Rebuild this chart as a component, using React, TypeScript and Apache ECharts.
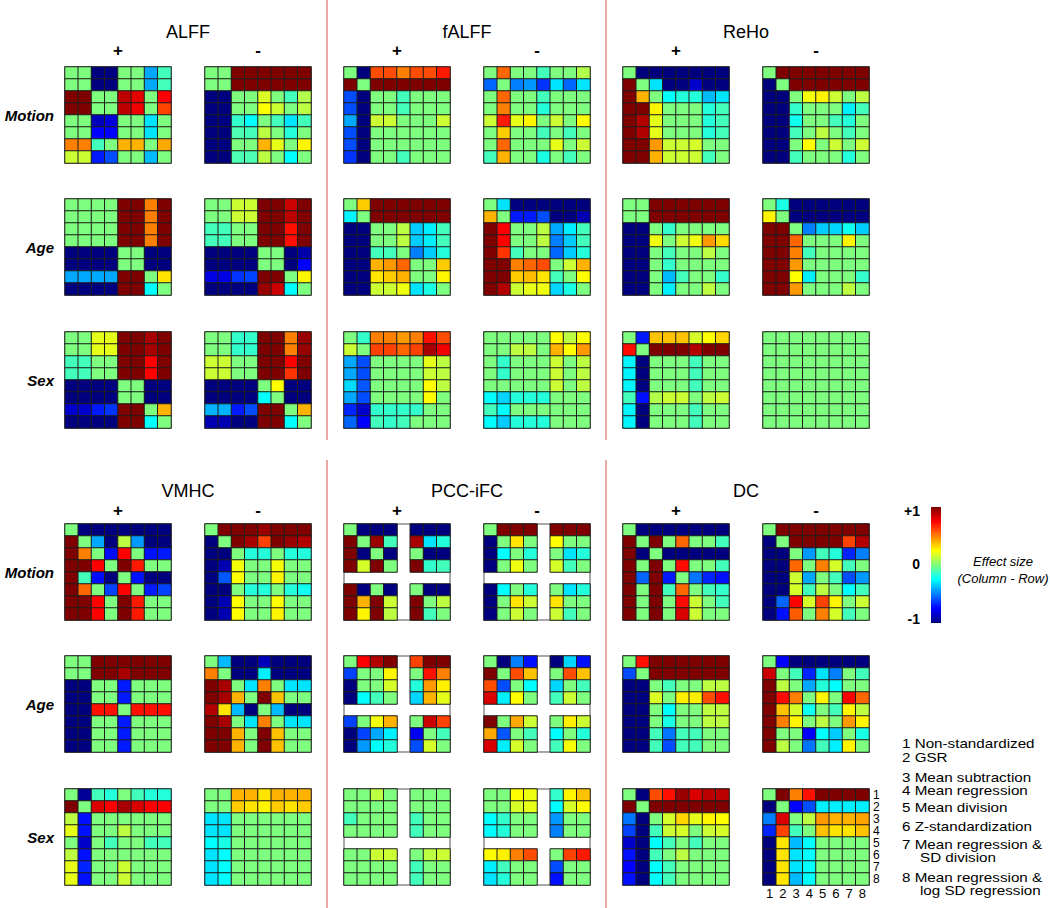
import React, { useEffect, useRef } from "react";
import * as echarts from "echarts";

const TICKS = ["1", "2", "3", "4", "5", "6", "7", "8"];
const ROW_LABELS = ["Motion", "Age", "Sex"];
const TOP_MEASURES = ["ALFF", "fALFF", "ReHo"];
const BOTTOM_MEASURES = ["VMHC", "PCC-iFC", "DC"];
const SIGNS = ["+", "-"];
const COLORBAR_TICKS = ["+1", "0", "-1"];
const COLORBAR_TITLE = ["Effect size", "(Column - Row)"];
// legend lines: [text, indented continuation?]
const STRATEGY_LINES = [
  ["1 Non-standardized", false],
  ["2 GSR", false],
  ["3 Mean subtraction", false],
  ["4 Mean regression", false],
  ["5 Mean division", false],
  ["6 Z-standardization", false],
  ["7 Mean regression &", false],
  ["SD division", true],
  ["8 Mean regression &", false],
  ["log SD regression", true],
];
const JET = ["#00007f", "#0000ff", "#007fff", "#00ffff", "#7fff7f", "#ffff00", "#ff7f00", "#ff0000", "#7f0000"];

const _ = null;

// ---------- ALFF ----------
const alffMotionPos = [
  [0, 0, -1, -1, 0, 0, -0.42, -0.12],
  [0, 0, -1, -1, 0, 0, -0.42, -0.12],
  [1, 1, 0, 0, 0.88, 0.8, 0, 0.75],
  [1, 1, 0, 0, 0.88, 0.78, 0, 0.62],
  [0, 0, -0.88, -0.82, 0, 0, -0.3, 0],
  [0, 0, -0.75, -0.75, 0, 0, -0.3, 0],
  [0.5, 0.5, -0.12, 0, 0.4, 0.4, 0, 0.42],
  [0.15, 0.15, -0.7, -0.6, 0, 0, -0.38, 0],
];
const alffMotionNeg = [
  [0, 0, 1, 1, 1, 1, 1, 1],
  [0, 0, 1, 1, 1, 1, 1, 1],
  [-1, -1, 0, 0, 0.18, 0, -0.12, 0.1],
  [-1, -1, 0, 0, 0.25, 0.15, 0, 0.12],
  [-1, -1, -0.15, -0.25, 0, -0.12, -0.3, -0.12],
  [-1, -1, -0.1, -0.12, 0.12, 0, -0.18, 0],
  [-1, -1, 0, 0, 0.4, 0.2, 0, 0.27],
  [-1, -1, -0.1, -0.1, 0.12, 0, -0.25, 0],
];
const alffAgePos = [
  [0, 0, 0, 0, 1, 1, 0.5, 1],
  [0, 0, 0, 0, 1, 1, 0.5, 1],
  [0, 0, 0, 0, 1, 1, 0.5, 1],
  [0, 0, 0, 0, 1, 1, 0.5, 1],
  [-1, -1, -1, -1, 0, 0, -1, -1],
  [-1, -1, -1, -1, 0, 0, -1, -1],
  [-0.42, -0.42, -0.42, -0.42, 1, 1, 0, 0.3],
  [-1, -1, -1, -1, 1, 1, -0.25, 0],
];
const alffAgeNeg = [
  [0, 0, 0.15, 0.15, 1, 1, 0.85, 1],
  [0, 0, 0.15, 0.15, 1, 1, 0.88, 1],
  [-0.12, -0.12, 0, 0, 1, 1, 0.72, 1],
  [-0.12, -0.12, 0, 0, 1, 1, 0.72, 1],
  [-1, -1, -1, -1, 0, 0, -1, -0.92],
  [-1, -1, -1, -1, 0, 0, -1, -0.75],
  [-0.8, -0.8, -0.65, -0.62, 1, 1, 0, 0.27],
  [-1, -1, -1, -1, 0.95, 0.85, -0.25, 0],
];
const alffSexPos = [
  [0, 0, 0.2, 0.2, 1, 1, 0.92, 1],
  [0, 0, 0.2, 0.2, 1, 1, 0.92, 1],
  [-0.12, -0.12, 0, 0, 1, 1, 0.75, 1],
  [-0.12, -0.12, 0, 0, 1, 1, 0.75, 1],
  [-1, -1, -1, -1, 0, 0, -1, -1],
  [-1, -1, -1, -1, 0, 0, -1, -1],
  [-0.85, -0.85, -0.7, -0.65, 1, 1, 0, 0.4],
  [-1, -1, -1, -1, 1, 1, -0.25, 0],
];
const alffSexNeg = [
  [0, 0, -0.15, -0.15, 1, 1, 0.5, 0.95],
  [0, 0, -0.15, -0.15, 1, 1, 0.5, 0.95],
  [0.15, 0.15, 0, 0, 1, 1, 0.75, 1],
  [0.15, 0.15, 0, 0, 1, 1, 0.65, 1],
  [-1, -1, -1, -1, 0, 0.25, -1, -1],
  [-1, -1, -1, -1, -0.25, 0, -1, -1],
  [-0.4, -0.4, -0.7, -0.6, 1, 1, 0, 0.4],
  [-0.9, -0.9, -1, -1, 1, 1, -0.25, 0],
];

// ---------- fALFF ----------
const falffMotionPos = [
  [0, -1, 0.6, 0.6, 0.5, 0.6, 0.6, 0.7],
  [1, 0, 1, 1, 1, 1, 1, 1],
  [-0.6, -1, 0, 0, -0.12, 0, 0, 0],
  [-0.6, -1, 0, 0, -0.12, 0, 0, 0],
  [-0.42, -1, 0.15, 0.15, 0, 0, 0, 0.15],
  [-0.6, -1, 0, 0, 0, 0, 0, 0],
  [-0.6, -1, 0, 0, 0, 0, 0, 0],
  [-0.65, -1, 0, 0, -0.12, 0, 0, 0],
];
const falffMotionNeg = [
  [0, 0.55, 0, 0, -0.12, 0, 0, 0.1],
  [-0.55, 0, -0.5, -0.45, -0.65, -0.3, -0.55, -0.3],
  [0, 0.55, 0, 0, -0.12, 0, 0, 0],
  [0, 0.5, 0, 0, -0.18, 0, 0, 0],
  [0.15, 0.7, 0.2, 0.27, 0, 0.15, 0, 0.25],
  [0, 0.35, 0, 0, -0.12, 0, -0.12, 0],
  [0, 0.55, 0, 0, 0, 0.2, 0, 0.15],
  [-0.12, 0.4, 0, 0, -0.2, 0, -0.12, 0],
];
const falffAgePos = [
  [0, 0.35, 1, 1, 1, 1, 1, 1],
  [-0.27, 0, 1, 1, 1, 1, 1, 1],
  [-1, -1, 0, 0, 0.12, -0.35, -0.28, -0.12],
  [-1, -1, 0, 0, 0.12, -0.35, -0.28, -0.12],
  [-1, -1, -0.12, -0.12, 0, -0.5, -0.35, -0.18],
  [-1, -1, 0.4, 0.45, 0.55, 0, 0, 0.35],
  [-1, -1, 0.3, 0.35, 0.4, 0, 0, 0.27],
  [-1, -1, 0.15, 0.15, 0.22, -0.3, -0.2, 0],
];
const falffAgeNeg = [
  [0, -0.3, -1, -1, -1, -1, -1, -1],
  [0.4, 0, -0.7, -0.7, -0.6, -1, -1, -0.9],
  [1, 0.75, 0, 0, 0.12, -0.42, -0.28, -0.12],
  [1, 0.75, 0, 0, 0.12, -0.5, -0.35, -0.12],
  [1, 0.65, -0.12, 0, 0, -0.55, -0.35, -0.18],
  [1, 1, 0.5, 0.55, 0.6, 0, 0.15, 0.4],
  [1, 1, 0.35, 0.38, 0.3, -0.12, 0, 0.25],
  [1, 0.9, 0.15, 0.2, 0.22, -0.33, -0.2, 0],
];
const falffSexPos = [
  [0, -0.15, 0.5, 0.5, 0.45, 0.5, 0.72, 0.6],
  [0.15, 0, 0.62, 0.62, 0.55, 0.62, 0.92, 0.78],
  [-0.42, -0.6, 0, 0, 0, 0, 0.2, 0.12],
  [-0.42, -0.6, 0, 0, 0, 0, 0.15, 0.12],
  [-0.32, -0.58, 0, 0, 0, 0, 0.25, 0.12],
  [-0.42, -0.6, 0, 0, 0, 0, 0.25, 0],
  [-0.68, -0.85, -0.15, -0.15, -0.15, -0.15, 0, 0],
  [-0.55, -0.75, -0.12, -0.15, -0.12, 0, 0, 0],
];
const falffSexNeg = [
  [0, 0, 0, 0, 0, 0.25, 0.12, 0.25],
  [0, 0, 0.12, 0.12, 0, 0.4, 0.25, 0.45],
  [0, -0.15, 0, 0, 0, 0.15, 0, 0.12],
  [0, -0.15, 0, 0, 0, 0.15, 0, 0.12],
  [0, 0, 0, 0, 0, 0.15, 0, 0.12],
  [-0.25, -0.33, -0.18, -0.18, -0.18, 0, 0, 0],
  [-0.12, -0.25, 0, 0, 0, 0, 0, 0],
  [-0.25, -0.35, -0.18, -0.18, -0.18, 0, 0, 0],
];

// ---------- ReHo ----------
const rehoMotionPos = [
  [0, -1, -1, -1, -1, -1, -1, -1],
  [1, 0, -0.3, -1, -1, -0.85, -1, -1],
  [1, 0.4, 0, -0.25, -0.18, -0.18, -0.38, -0.3],
  [1, 1, 0.27, 0, 0, 0, -0.18, -0.12],
  [1, 0.9, 0.2, 0, 0, 0, -0.18, -0.12],
  [1, 0.9, 0.2, 0, 0, 0, -0.18, -0.12],
  [1, 1, 0.45, 0.15, 0.15, 0.17, 0, 0],
  [1, 1, 0.4, 0.15, 0.15, 0.15, -0.12, 0],
];
const rehoMotionNeg = [
  [0, 1, 1, 1, 1, 1, 1, 1],
  [-1, 0, 1, 1, 1, 1, 1, 1],
  [-1, -1, 0, 0.23, 0.27, 0.15, 0, 0.12],
  [-1, -1, -0.15, 0, 0, 0, -0.28, -0.12],
  [-1, -1, -0.22, 0, 0, -0.12, -0.18, 0],
  [-1, -1, -0.12, 0, 0.12, 0, -0.12, 0],
  [-1, -1, 0, 0.25, 0, 0.15, 0, 0.15],
  [-1, -1, -0.12, 0, 0, 0, -0.18, 0],
];
const rehoAgePos = [
  [0, 0, 1, 1, 1, 1, 1, 1],
  [0, 0, 1, 1, 1, 1, 1, 1],
  [-1, -1, 0, -0.15, 0, 0, 0, 0],
  [-1, -1, 0.22, 0, 0.15, 0.22, 0.45, 0.32],
  [-1, -1, 0, -0.12, 0, 0, 0.12, 0],
  [-1, -1, 0, -0.15, 0, 0, 0, 0],
  [-1, -1, 0, -0.38, -0.12, 0, 0, -0.15],
  [-1, -1, 0, -0.28, 0, 0, 0.12, 0],
];
const rehoAgeNeg = [
  [0, -0.2, -1, -1, -1, -1, -1, -1],
  [0.27, 0, -1, -1, -1, -1, -1, -1],
  [1, 1, 0, -0.5, -0.35, -0.33, -0.22, -0.35],
  [1, 1, 0.55, 0, 0, 0, 0.27, 0],
  [1, 1, 0.5, -0.12, 0, 0, 0, 0],
  [1, 1, 0.45, 0, 0, 0, 0, 0],
  [1, 1, 0.25, -0.28, 0, 0, 0, -0.15],
  [1, 1, 0.45, 0, 0, 0, 0.12, 0],
];
const rehoSexPos = [
  [0, -0.7, 0.37, 0.37, 0.37, 0.17, 0.25, 0.33],
  [0.73, 0, 1, 1, 1, 0.9, 1, 1],
  [-0.27, -1, 0, 0, 0, -0.12, 0, 0],
  [-0.27, -1, 0, 0, 0, -0.12, 0, 0],
  [-0.27, -1, 0, 0, 0, -0.12, 0, 0],
  [-0.12, -0.72, 0.1, 0.15, 0.15, 0, 0.12, 0.15],
  [-0.27, -1, 0, 0, 0, -0.12, 0, 0],
  [-0.27, -1, 0, 0, 0, -0.12, 0, 0],
];
const rehoSexNeg = [
  [0, 0, 0, 0, 0, 0, 0, 0],
  [0, 0, 0, 0, 0, 0, 0, 0],
  [0, 0, 0, 0, 0, 0, 0, 0],
  [0, 0, 0, 0, 0, 0, 0, 0],
  [0, 0, 0, 0, 0, 0, 0, 0],
  [0, 0, 0, 0, 0, 0, 0, 0],
  [0, 0, 0, 0, 0, 0, 0, 0],
  [0, 0, 0, 0, 0, 0, 0, 0],
];

// ---------- VMHC ----------
const vmhcMotionPos = [
  [0, -1, -1, -1, -1, -1, -1, -1],
  [1, 0, -0.42, -1, 0.12, -0.45, -1, -1],
  [1, 0.5, 0, -0.73, 0.75, 0, -0.72, -0.7],
  [1, 1, 0.75, 0, 1, 0.7, 0, 0],
  [1, -0.12, -0.73, -1, 0, -0.72, -1, -1],
  [1, 0.55, 0, -0.62, 0.75, 0, -0.7, -0.62],
  [1, 1, 0.75, 0, 1, 0.7, 0, 0],
  [1, 1, 0.75, 0, 1, 0.7, 0, 0],
];
const vmhcMotionNeg = [
  [0, 1, 1, 1, 0.95, 1, 1, 1],
  [-1, 0, 1, 0.92, 0.62, 1, 0.95, 0.9],
  [-1, -1, 0, -0.18, -0.18, 0, -0.18, -0.18],
  [-1, -0.9, 0.23, 0, 0, 0.23, 0, 0],
  [-1, -0.58, 0.25, 0, 0, 0.27, 0, 0],
  [-1, -1, 0, -0.18, -0.18, 0, -0.18, -0.22],
  [-1, -0.9, 0.25, 0, 0, 0.25, 0, 0],
  [-1, -0.9, 0.25, 0, 0, 0.27, 0, 0],
];
const vmhcAgePos = [
  [0, 0, 1, 1, 1, 1, 1, 1],
  [0, 0, 1, 1, 0.92, 1, 1, 1],
  [-1, -1, 0, 0, -0.7, 0, 0, 0],
  [-1, -1, 0, 0, -0.7, 0, 0, 0],
  [-1, -1, 0.72, 0.72, 0, 0.72, 0.72, 0.72],
  [-1, -1, 0, 0, -0.7, 0, 0, 0],
  [-1, -1, 0, 0, -0.7, 0, 0, 0],
  [-1, -1, 0, 0, -0.7, 0, 0, 0],
];
const vmhcAgeNeg = [
  [0, -0.38, -1, -1, -0.88, -1, -1, -1],
  [0.5, 0, -1, -1, -0.28, -1, -1, -1],
  [1, 0.92, 0, -0.3, 0.5, 0, -0.3, -0.3],
  [1, 0.92, 0.4, 0, 1, 0.37, 0, 0],
  [0.9, 0.3, -0.38, -1, 0, -0.38, -1, -1],
  [1, 0.92, 0, -0.3, 0.5, 0, -0.3, -0.3],
  [1, 1, 0.4, 0, 1, 0.37, 0, 0],
  [1, 1, 0.4, 0, 1, 0.37, 0, 0],
];
const vmhcSexPos = [
  [0, -0.95, -0.12, -0.18, 0, -0.12, -0.18, -0.18],
  [1, 0, 0.82, 0.75, 0.92, 0.82, 0.75, 0.75],
  [0.12, -0.72, 0, 0, 0, 0, 0, 0],
  [0.2, -0.72, 0, 0, 0.12, 0, 0, 0],
  [0, -0.85, 0, -0.12, 0, 0, -0.12, -0.12],
  [0.12, -0.72, 0, 0, 0, 0, 0, 0],
  [0.2, -0.68, 0, 0, 0.15, 0, 0, 0],
  [0.2, -0.72, 0, 0, 0.15, 0, 0, 0],
];
const vmhcSexNeg = [
  [0, 0, 0.4, 0.4, 0.3, 0.4, 0.4, 0.4],
  [0, 0, 0.35, 0.3, 0.27, 0.35, 0.3, 0.35],
  [-0.3, -0.3, 0, 0, 0, 0, 0, 0],
  [-0.3, -0.3, 0, 0, 0, 0, 0, 0],
  [-0.25, -0.2, 0, 0, 0, 0, 0, 0],
  [-0.3, -0.25, 0, 0, 0, 0, 0, 0],
  [-0.3, -0.25, 0, 0, 0, 0, 0, 0],
  [-0.3, -0.25, 0, 0, 0, 0, 0, 0],
];

// ---------- PCC-iFC (strategy 5 not available) ----------
const pccMotionPos = [
  [0, -1, -1, -1, _, -1, -1, -1],
  [1, 0, 0.95, -0.12, _, 0.92, -0.3, -0.18],
  [1, -1, 0, -1, _, 0, -1, -1],
  [1, 0.17, 1, 0, _, 1, -0.15, -0.12],
  [_, _, _, _, _, _, _, _],
  [1, -1, 0, -1, _, 0, -1, -1],
  [1, 0.4, 1, 0.15, _, 1, 0, 0.12],
  [1, 0.27, 1, 0.12, _, 1, -0.12, 0],
];
const pccMotionNeg = [
  [0, 1, 1, 1, _, 1, 1, 1],
  [-1, 0, 0.3, 0, _, 0.25, 0, 0],
  [-1, -0.25, 0, -0.18, _, 0, -0.3, -0.18],
  [-1, 0, 0.22, 0, _, 0.17, -0.12, 0],
  [_, _, _, _, _, _, _, _],
  [-1, -0.25, 0, -0.18, _, 0, -0.3, -0.18],
  [-1, 0, 0.3, 0.15, _, 0.3, 0, 0],
  [-1, 0, 0.15, 0, _, 0.15, -0.12, 0],
];
const pccAgePos = [
  [0, 0.75, 0.9, 1, _, 0.62, 1, 1],
  [-0.62, 0, 0, 0.27, _, 0, 0.72, 0.5],
  [-1, 0, 0, 0.17, _, -0.18, 0.45, 0.28],
  [-1, -0.25, -0.12, 0, _, -0.33, 0.4, 0.2],
  [_, _, _, _, _, _, _, _],
  [-0.62, 0, 0.23, 0.4, _, 0, 0.85, 0.62],
  [-1, -0.62, -0.42, -0.28, _, -0.78, 0, -0.12],
  [-1, -0.45, -0.25, -0.18, _, -0.6, 0.17, 0],
];
const pccAgeNeg = [
  [0, -1, -0.5, -0.72, _, -1, -0.33, -0.72],
  [1, 0, 0.6, 0.37, _, 0, 0.6, 0.37],
  [0.6, -0.6, 0, -0.25, _, -0.33, 0, -0.12],
  [0.82, -0.28, 0.25, 0, _, -0.12, 0.15, 0],
  [_, _, _, _, _, _, _, _],
  [1, 0, 0.42, 0.15, _, 0, 0.28, 0.15],
  [0.42, -0.58, 0, -0.12, _, -0.25, 0, -0.18],
  [0.82, -0.28, 0.17, 0, _, -0.12, 0.23, 0],
];
const pccSexPos = [
  [0, 0, 0.12, 0, _, 0, 0, 0],
  [0, 0, 0, 0, _, 0, 0, 0],
  [-0.12, 0, 0, 0, _, -0.12, 0, 0],
  [0, 0, 0, 0, _, -0.12, 0, 0],
  [_, _, _, _, _, _, _, _],
  [0, 0, 0.15, 0.15, _, 0, 0.12, 0.15],
  [0, 0, 0, 0, _, -0.12, 0, 0],
  [0, 0, 0, 0, _, -0.12, 0, 0],
];
const pccSexNeg = [
  [0, 0, 0.25, 0.22, _, -0.15, 0.27, 0.37],
  [0, 0, 0.17, 0.2, _, -0.25, 0.17, 0.25],
  [-0.25, -0.15, 0, 0, _, -0.45, 0, 0],
  [-0.25, -0.18, 0, 0, _, -0.5, 0, 0],
  [_, _, _, _, _, _, _, _],
  [0.25, 0.28, 0.5, 0.6, _, 0, 0.62, 0.7],
  [-0.28, -0.12, 0, 0, _, -0.6, 0, 0],
  [-0.3, -0.18, 0, 0, _, -0.72, 0, 0],
];

// ---------- DC ----------
const dcMotionPos = [
  [0, -1, -1, -1, -1, -1, -1, -1],
  [1, 0, 1, 0, 0.55, 0, 0, -0.12],
  [1, -1, 0, -1, -1, -1, -1, -1],
  [1, 0, 1, 0, 0.73, 0, 0, -0.12],
  [1, -0.55, 1, -0.7, 0, -0.52, -0.68, -0.72],
  [1, 0, 1, -0.12, 0.55, 0, -0.12, -0.15],
  [1, 0, 1, 0, 0.73, 0.15, 0, -0.12],
  [1, 0, 1, 0, 0.82, 0.15, 0, 0],
];
const dcMotionNeg = [
  [0, 1, 1, 1, 1, 1, 1, 1],
  [-1, 0, 1, 1, 1, 1, 0.62, 0.9],
  [-1, -1, 0, -0.45, -0.12, -0.18, -0.68, -0.5],
  [-1, -1, 0.55, 0, 0.5, 0.17, -0.12, 0],
  [-1, -1, 0.15, -0.42, 0, -0.12, -0.6, -0.45],
  [-1, -1, 0.17, -0.12, 0.12, 0, -0.25, -0.12],
  [-1, -0.55, 0.75, 0.17, 0.62, 0.27, 0, 0.15],
  [-1, -0.72, 0.57, 0, 0.5, 0.17, -0.12, 0],
];
const dcAgePos = [
  [0, 0.72, 1, 1, 1, 1, 1, 1],
  [-0.6, 0, 1, 1, 1, 1, 1, 1],
  [-1, -1, 0, -0.12, 0, 0, 0.12, 0.12],
  [-1, -1, 0.18, 0, 0.28, 0.28, 0.6, 0.72],
  [-1, -1, 0, -0.25, 0, 0, 0.12, 0.12],
  [-1, -1, 0, -0.2, 0, 0, 0.12, 0.12],
  [-1, -1, -0.12, -0.52, -0.12, -0.12, 0, 0],
  [-1, -1, -0.12, -0.6, -0.12, -0.12, 0, 0],
];
const dcAgeNeg = [
  [0, -0.75, -1, -1, -1, -1, -1, -1],
  [0.85, 0, -0.12, -0.68, -0.3, -0.5, 0, -0.12],
  [1, 0.12, 0, -0.42, -0.18, -0.25, 0, 0],
  [1, 0.73, 0.5, 0, 0.27, 0, 0.75, 0.55],
  [1, 0.37, 0.17, -0.22, 0, -0.12, 0.27, 0.12],
  [1, 0.5, 0.27, 0, 0.12, 0, 0.45, 0.27],
  [1, 0, 0, -0.75, -0.25, -0.35, 0, -0.2],
  [1, 0.12, 0, -0.52, -0.12, -0.28, 0.27, 0],
];
const dcSexPos = [
  [0, -1, 0.6, 0.72, 0.95, 0.82, 0.88, 0.88],
  [1, 0, 1, 1, 1, 1, 1, 1],
  [-0.52, -1, 0, 0.17, 0.33, 0.2, 0.27, 0.25],
  [-0.62, -1, -0.12, 0.15, 0.17, 0, 0.15, 0.17],
  [-0.85, -1, -0.25, -0.12, 0, -0.12, 0, 0],
  [-0.72, -1, -0.12, 0, 0.12, 0, 0, 0],
  [-0.75, -1, -0.25, -0.12, 0, 0, 0, 0],
  [-0.72, -1, -0.25, -0.12, 0, 0, 0, 0],
];
const dcSexNeg = [
  [0, 1, 0.5, 0.72, 1, 1, 1, 1],
  [-1, 0, -0.75, -0.6, -0.28, -0.28, -0.28, -0.28],
  [-0.5, 0.82, 0, 0.12, 0.45, 0.4, 0.4, 0.43],
  [-0.68, 0.62, -0.12, 0, 0.37, 0.3, 0.3, 0.37],
  [-1, 0.3, -0.38, -0.25, 0, 0, 0, 0],
  [-1, 0.3, -0.3, -0.25, 0, 0, 0, 0],
  [-1, 0.3, -0.3, -0.25, 0, 0, 0, 0],
  [-1, 0.3, -0.38, -0.25, 0, 0, 0, 0],
];

const TOP_MATRICES = [
  [alffMotionPos, alffMotionNeg, falffMotionPos, falffMotionNeg, rehoMotionPos, rehoMotionNeg],
  [alffAgePos, alffAgeNeg, falffAgePos, falffAgeNeg, rehoAgePos, rehoAgeNeg],
  [alffSexPos, alffSexNeg, falffSexPos, falffSexNeg, rehoSexPos, rehoSexNeg],
];
const BOTTOM_MATRICES = [
  [vmhcMotionPos, vmhcMotionNeg, pccMotionPos, pccMotionNeg, dcMotionPos, dcMotionNeg],
  [vmhcAgePos, vmhcAgeNeg, pccAgePos, pccAgeNeg, dcAgePos, dcAgeNeg],
  [vmhcSexPos, vmhcSexNeg, pccSexPos, pccSexNeg, dcSexPos, dcSexNeg],
];

const FONT = "'Liberation Sans', Arial, Helvetica, sans-serif";

function buildOption() {
  const COL_X = [65, 205, 344, 484, 623, 763];
  const ROW_Y = [67, 199, 332, 524, 656, 789];
  const W = 106;
  const H = 96;
  const grids: any[] = [];
  const xAxes: any[] = [];
  const yAxes: any[] = [];
  const series: any[] = [];
  const graphics: any[] = [];
  let idx = 0;

  [TOP_MATRICES, BOTTOM_MATRICES].forEach((block, b) => {
    block.forEach((rowMats, r) => {
      rowMats.forEach((mat, c) => {
        const isLast = b === 1 && r === 2 && c === 5;
        grids.push({
          left: COL_X[c], top: ROW_Y[b * 3 + r], width: W, height: H,
          show: true, borderColor: "#8c8c8c", borderWidth: 1.5, backgroundColor: "#ffffff",
        });
        xAxes.push({
          type: "category", data: TICKS, gridIndex: idx, position: "bottom",
          axisLine: { show: false }, axisTick: { show: false }, splitLine: { show: false },
          axisLabel: { show: isLast, interval: 0, color: "#000", fontSize: 13, margin: 2, fontFamily: FONT },
        });
        yAxes.push({
          type: "category", data: TICKS, gridIndex: idx, inverse: true, position: "right",
          axisLine: { show: false }, axisTick: { show: false }, splitLine: { show: false },
          axisLabel: { show: isLast, interval: 0, color: "#000", fontSize: 12, margin: 4, fontFamily: FONT },
        });
        const data: any[] = [];
        mat.forEach((row: any[], i: number) =>
          row.forEach((v: any, j: number) => {
            if (v !== null) data.push([j, i, v]);
          })
        );
        series.push({
          type: "heatmap", xAxisIndex: idx, yAxisIndex: idx, data, silent: true,
          itemStyle: { borderColor: "#1e1e1e", borderWidth: 1 },
          emphasis: { disabled: true },
        });
        idx++;
      });
    });
  });

  const text = (t: string, x: number, y: number, size: number, opts: any = {}) => ({
    type: "text", x, y, silent: true,
    scaleX: opts.scaleX || 1,
    style: {
      text: t, fill: "#000", fontSize: size, fontFamily: FONT,
      fontWeight: opts.weight || "normal", fontStyle: opts.style || "normal",
      align: opts.align || "center", verticalAlign: "middle",
      textAlign: opts.align || "center", textVerticalAlign: "middle",
    },
  });

  // measure titles and signs
  [TOP_MEASURES, BOTTOM_MEASURES].forEach((measures, b) => {
    measures.forEach((m, k) => {
      const cx = (COL_X[2 * k] + COL_X[2 * k + 1] + W) / 2;
      graphics.push(text(m, cx, b === 0 ? 32 : 491, 18));
      SIGNS.forEach((s, si) => {
        graphics.push(text(s, COL_X[2 * k + si] + W / 2, b === 0 ? 50 : 510, 17, { weight: "bold" }));
      });
    });
    ROW_LABELS.forEach((lab, r) => {
      graphics.push(text(lab, 54, ROW_Y[b * 3 + r] + H / 2, 15, { align: "right", weight: "bold", style: "italic" }));
    });
  });

  // red separators
  [327, 606].forEach((x) => {
    graphics.push({ type: "line", silent: true, shape: { x1: x, y1: 0, x2: x, y2: 440 }, style: { stroke: "#e68a8a", lineWidth: 1.5 } });
    graphics.push({ type: "line", silent: true, shape: { x1: x, y1: 460, x2: x, y2: 908 }, style: { stroke: "#e68a8a", lineWidth: 1.5 } });
  });

  // colour bar
  const stops = JET.slice().reverse().map((col, i) => ({ offset: i / (JET.length - 1), color: col }));
  graphics.push({
    type: "rect", silent: true, shape: { x: 931, y: 507, width: 10, height: 116 },
    style: { fill: new echarts.graphic.LinearGradient(0, 0, 0, 1, stops) },
  });
  const tickY = [511, 564, 619];
  COLORBAR_TICKS.forEach((t, i) => graphics.push(text(t, 920, tickY[i], 14, { align: "right", weight: "bold" })));
  COLORBAR_TITLE.forEach((t, i) => graphics.push(text(t, 1003, 561 + i * 17, 13, { style: "italic" })));

  // strategy legend
  const legendY = [743, 757, 777, 790, 807, 826, 844, 857, 877, 890];
  STRATEGY_LINES.forEach((ln: any, i) => {
    graphics.push(text(ln[0], ln[1] ? 920 : 902, legendY[i], 13, { align: "left", scaleX: 1.17 }));
  });

  return {
    animation: false,
    backgroundColor: "#ffffff",
    grid: grids,
    xAxis: xAxes,
    yAxis: yAxes,
    visualMap: {
      type: "continuous", show: false, min: -1, max: 1, dimension: 2,
      inRange: { color: JET },
    },
    series,
    graphic: { elements: graphics },
  };
}

export default function App() {
  const ref = useRef<HTMLDivElement>(null);
  useEffect(() => {
    if (!ref.current) return;
    const chart = echarts.init(ref.current, null, { renderer: "svg" });
    chart.setOption(buildOption() as any);
    return () => chart.dispose();
  }, []);
  return (
    <div
      ref={ref}
      style={{ position: "absolute", left: 0, top: 0, width: 1050, height: 908, background: "#fff" }}
    />
  );
}
